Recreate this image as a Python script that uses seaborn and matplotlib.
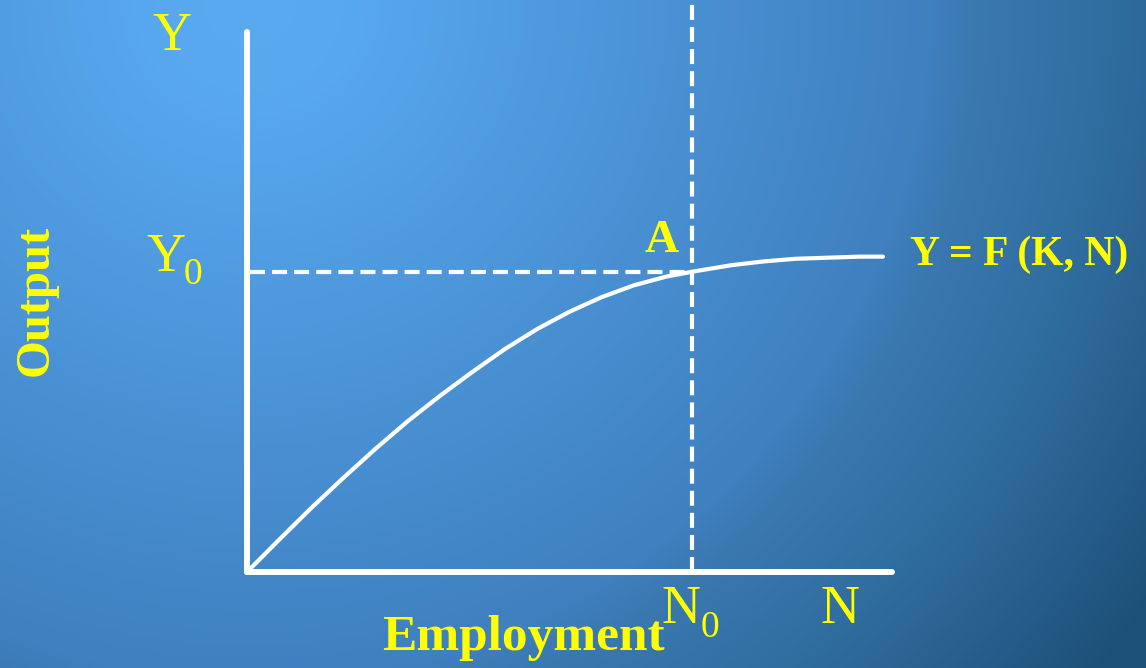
import numpy as np
import matplotlib
matplotlib.use("Agg")
import matplotlib.pyplot as plt
import seaborn as sns

# production function curve (axis units 0..10)
employment = [0, 0.5, 1.0, 1.5, 2.0, 2.5, 3.0, 3.5, 4.0, 4.5, 5.0,
              5.5, 6.0, 6.5, 6.9, 7.5, 8.0, 8.5, 9.0, 9.5, 9.86]
output = [0, 0.60, 1.19, 1.75, 2.29, 2.80, 3.27, 3.71, 4.13, 4.50, 4.82,
          5.09, 5.31, 5.47, 5.56, 5.68, 5.75, 5.80, 5.82, 5.84, 5.84]
n0 = 6.90
y0 = 5.56

# background gradient stops: distance from light spot (px) -> rgb
grad_dist = [0, 94, 680, 726, 870, 1084]
grad_r = [90, 88, 63, 58, 47, 29]
grad_g = [170, 168, 128, 120, 108, 80]
grad_b = [242, 240, 191, 176, 158, 120]

sns.set_style("white")
plt.rcParams['font.family'] = ['Liberation Serif', 'DejaVu Serif']

W, H = 1146, 668
fig = plt.figure(figsize=(W / 100, H / 100), dpi=100)

# gradient background
bg = fig.add_axes([0, 0, 1, 1])
yy, xx = np.mgrid[0:H, 0:W]
d = np.hypot(xx - 250, yy - 0)
img = np.dstack([np.interp(d, grad_dist, c) for c in (grad_r, grad_g, grad_b)]) / 255
bg.imshow(img, aspect='auto', extent=(0, 1, 0, 1), origin='upper')
bg.set_axis_off()

ax = fig.add_axes([247 / W, 96 / H, 645 / W, 540 / H])
ax.set_facecolor('none')
ax.set_xlim(0, 10)
ax.set_ylim(0, 10)
ax.set_xticks([])
ax.set_yticks([])
for side in ('top', 'right'):
    ax.spines[side].set_visible(False)
for side in ('left', 'bottom'):
    ax.spines[side].set_color('white')
    ax.spines[side].set_linewidth(4.3)
    ax.spines[side].set_capstyle('round')

sns.lineplot(x=employment, y=output, sort=False, color='white', lw=3.0,
             ax=ax, clip_on=False)
ax.axvline(n0, 0, 1.08, color='white', lw=3, dashes=(3.6, 1.7), clip_on=False)
ax.hlines(y0, 0.05, n0, color='white', lw=3, linestyles=(0, (3.6, 1.7)))

yellow = '#ffff00'
# axis letters
ax.text(-1.16, 9.67, 'Y', color=yellow, fontsize=39, ha='center', va='baseline')
ax.text(-1.26, 5.57, 'Y', color=yellow, fontsize=39, ha='center', va='baseline')
ax.text(-0.84, 5.33, '0', color=yellow, fontsize=27, ha='center', va='baseline')
ax.text(6.73, -0.95, 'N', color=yellow, fontsize=39, ha='center', va='baseline')
ax.text(7.17, -1.20, '0', color=yellow, fontsize=27, ha='center', va='baseline')
ax.text(9.20, -0.95, 'N', color=yellow, fontsize=39, ha='center', va='baseline')

ax.text(6.42, 5.93, 'A', color=yellow, fontsize=34, fontweight='bold',
        ha='center', va='baseline')
ax.text(10.28, 5.69, 'Y = F (K, N)', color=yellow, fontsize=30,
        fontweight='bold', ha='left', va='baseline')

# axis titles
ax.text(2.09, -1.44, 'Employment', color=yellow, fontsize=37,
        fontweight='bold', ha='left', va='baseline')
ax.text(-3.28, 5.02, 'Output', color=yellow, fontsize=35, fontweight='bold',
        rotation=90, ha='center', va='center')

fig.savefig('out.png', dpi=100)
